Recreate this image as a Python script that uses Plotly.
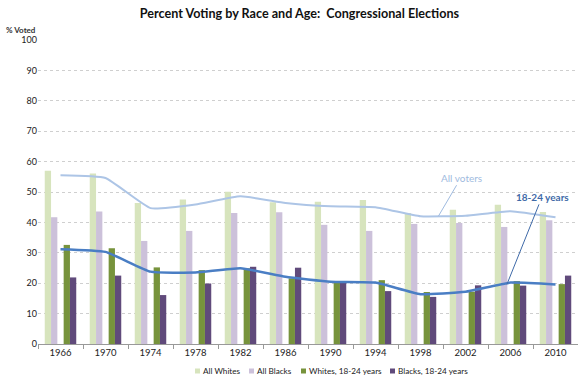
import plotly.graph_objects as go

years = ["1966", "1970", "1974", "1978", "1982", "1986", "1990", "1994", "1998", "2002", "2006", "2010"]
all_whites = [57.0, 56.1, 46.4, 47.5, 50.1, 46.6, 46.8, 47.4, 43.1, 44.2, 45.8, 43.4]
all_blacks = [41.7, 43.6, 33.9, 37.2, 43.1, 43.3, 39.2, 37.2, 39.5, 39.8, 38.5, 40.7]
whites_18_24 = [32.6, 31.5, 25.2, 24.3, 24.9, 21.6, 20.5, 21.0, 17.1, 17.2, 20.7, 19.7]
blacks_18_24 = [21.9, 22.5, 16.1, 19.9, 25.4, 25.1, 20.2, 17.4, 15.5, 19.3, 19.2, 22.5]
all_voters = [55.5, 54.6, 44.7, 45.9, 48.6, 46.4, 45.3, 45.0, 42.0, 42.2, 43.7, 41.7]
voters_18_24 = [31.2, 30.3, 23.8, 23.5, 24.9, 22.1, 20.5, 20.2, 16.4, 17.2, 20.2, 19.6]
y_ticks = [0, 10, 20, 30, 40, 50, 60, 70, 80, 90, 100]

FONT = "Lato"
W, H = 578, 377
ML, MR, MT, MB = 38, 0, 40, 33
PW, PH = W - ML - MR, H - MT - MB

def px_x(px):
    return (px - ML) / PW

def px_y(py):
    return (H - MB - py) / PH

fig = go.Figure()

bar_w = 0.14
bars = [
    ("All Whites", all_whites, "#d7e4bd", -0.35, 195),
    ("All Blacks", all_blacks, "#ccc1da", -0.21, 249),
    ("Whites, 18-24 years", whites_18_24, "#77933c", 0.07, 301),
    ("Blacks, 18-24 years", blacks_18_24, "#604a7b", 0.21, 390),
]
for name, vals, col, off, lx in bars:
    fig.add_trace(go.Bar(x=years, y=vals, name=name, marker_color=col,
                         marker_line_width=0, width=bar_w, offset=off, showlegend=False))
    # manual legend entry
    fig.add_shape(type="rect", xref="paper", yref="paper",
                  x0=px_x(lx), x1=px_x(lx + 5), y0=px_y(373.5), y1=px_y(368.5),
                  fillcolor=col, line_width=0)
    fig.add_annotation(xref="paper", yref="paper", x=px_x(lx + 6), y=px_y(371),
                       xanchor="left", yanchor="middle", text=name, showarrow=False,
                       font=dict(family=FONT, size=8.2, color="#222222"))

fig.add_trace(go.Scatter(x=years, y=all_voters, mode="lines", showlegend=False,
                         line=dict(color="#adc5e6", width=2, shape="spline", smoothing=0.4)))
fig.add_trace(go.Scatter(x=years, y=voters_18_24, mode="lines", showlegend=False,
                         line=dict(color="#4a7ec4", width=2.5, shape="spline", smoothing=0.4)))

fig.add_annotation(x=8.4, y=42.1, ax=8.9, ay=54.7, xref="x", yref="y", axref="x", ayref="y",
                   text="All voters", showarrow=True, arrowhead=0, arrowwidth=1,
                   arrowcolor="#9fbbe0", font=dict(family=FONT, size=10, color="#9fbbe0"))
fig.add_annotation(x=9.92, y=19.6, ax=10.7, ay=48.4, xref="x", yref="y", axref="x", ayref="y",
                   text="<b>18-24 years</b>", showarrow=True, arrowhead=0, arrowwidth=1,
                   arrowcolor="#3f6aa8", font=dict(family=FONT, size=10, color="#3f6aa8"))
fig.add_annotation(x=px_x(21), y=px_y(30), xref="paper", yref="paper", text="<b>% Voted</b>",
                   xanchor="center", yanchor="middle", showarrow=False,
                   font=dict(family=FONT, size=8, color="#333333"))

fig.update_layout(
    width=W, height=H,
    margin=dict(l=ML, r=MR, t=MT, b=MB),
    paper_bgcolor="white", plot_bgcolor="white",
    title=dict(text="<b>Percent Voting by Race and Age:  Congressional Elections</b>",
               x=0.518, xanchor="center", y=1 - 14 / H, yanchor="middle",
               font=dict(family=FONT, size=12.6, color="#111111")),
    font=dict(family=FONT, size=9, color="#222222"),
    barmode="overlay",
    showlegend=False,
    xaxis=dict(type="category", tickson="boundaries", ticks="outside", ticklen=4,
               tickcolor="#999999", showline=True, linecolor="#999999", linewidth=1,
               showgrid=False, tickfont=dict(size=9.5), automargin=False),
    yaxis=dict(range=[0, 100], tickvals=y_ticks, showgrid=True, gridcolor="#cfcfcf",
               griddash="dot", gridwidth=1, zeroline=False, showline=False,
               ticks="", tickfont=dict(size=9), automargin=False),
)

fig.write_html("out.html")
